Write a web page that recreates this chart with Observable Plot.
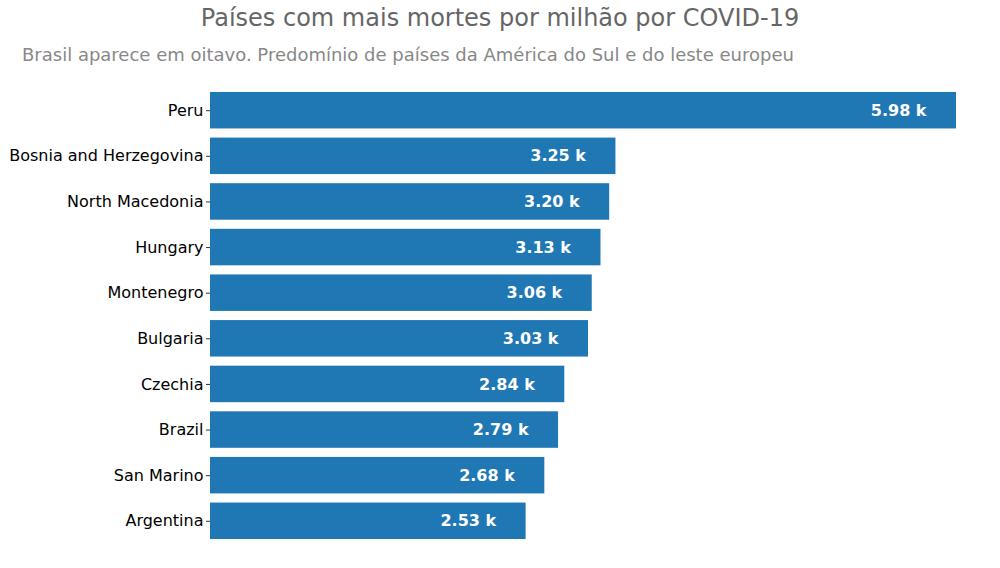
<!DOCTYPE html>
<html>
<head>
<meta charset="utf-8">
<script src="https://cdn.jsdelivr.net/npm/d3@7"></script>
<script src="https://cdn.jsdelivr.net/npm/@observablehq/plot@0.6"></script>
<style>
  body { margin: 0; background: #fff; font-family: "DejaVu Sans", sans-serif; }
  #wrap { width: 1000px; height: 568px; position: relative; overflow: hidden; }
  #title { position: absolute; left: 0; top: 6px; width: 1000px; line-height: 24px; font-size: 24px; color: #666; text-align: center; white-space: nowrap; }
  #subtitle { position: absolute; left: 22px; top: 46px; line-height: 18px; font-size: 18px; color: #888; white-space: nowrap; }
  #chart { position: absolute; left: 0; top: 61px; }
  svg { display: block; }
</style>
</head>
<body>
<div id="wrap">
  <div id="chart"></div>
  <div id="title">Países com mais mortes por milhão por COVID-19</div>
  <div id="subtitle">Brasil aparece em oitavo. Predomínio de países da América do Sul e do leste europeu</div>
</div>
<script>
const countries = ["Peru", "Bosnia and Herzegovina", "North Macedonia", "Hungary", "Montenegro", "Bulgaria", "Czechia", "Brazil", "San Marino", "Argentina"];
const deathsPerMillion = [5980, 3250, 3200, 3130, 3060, 3030, 2840, 2790, 2680, 2530];
const valueLabels = ["5.98 k", "3.25 k", "3.20 k", "3.13 k", "3.06 k", "3.03 k", "2.84 k", "2.79 k", "2.68 k", "2.53 k"];

const data = countries.map((c, i) => ({country: c, value: deathsPerMillion[i], label: valueLabels[i]}));

const chart = Plot.plot({
  width: 1000,
  height: 507,
  marginTop: 26.4,
  marginBottom: 24.4,
  marginLeft: 210,
  marginRight: 44,
  style: {fontFamily: "DejaVu Sans, sans-serif", fontSize: "16px", color: "#000", background: "transparent"},
  x: {domain: [0, 5980], axis: null},
  y: {domain: countries, padding: 0.2, paddingOuter: 0.1, round: false, label: null, axis: null},
  marks: [
    Plot.barX(data, {x: "value", y: "country", fill: "#1f77b4"}),
    Plot.text(data, {x: "value", y: "country", text: "label", textAnchor: "end", dx: -30, fill: "white", fontWeight: "bold", fontSize: 16}),
    Plot.axisY({tickSize: 4, tickPadding: 3, label: null, fontSize: 16, stroke: "#333"})
  ]
});
document.getElementById("chart").appendChild(chart);
</script>
</body>
</html>
